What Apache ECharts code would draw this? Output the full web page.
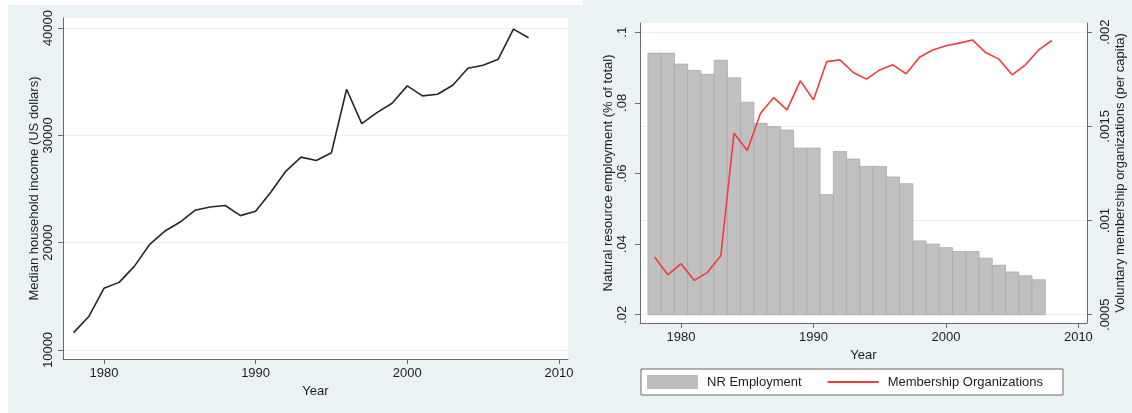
<!DOCTYPE html>
<html><head><meta charset="utf-8">
<script src="https://cdn.jsdelivr.net/npm/echarts@6/dist/echarts.min.js"></script>
<style>html,body{margin:0;padding:0;background:#fff}#c{width:1132px;height:413px}</style>
</head><body><div id="c"></div>
<script>
// ---- data ----
const incomeYears = [1978,1979,1980,1981,1982,1983,1984,1985,1986,1987,1988,1989,1990,1991,1992,1993,1994,1995,1996,1997,1998,1999,2000,2001,2002,2003,2004,2005,2006,2007,2008];
const income = [11620,13115,15750,16300,17790,19810,21060,21900,23020,23330,23460,22520,22930,24700,26670,27970,27660,28380,34300,31090,32120,32990,34610,33680,33830,34670,36260,36540,37100,39900,39090];

const nrYears = [1978,1979,1980,1981,1982,1983,1984,1985,1986,1987,1988,1989,1990,1991,1992,1993,1994,1995,1996,1997,1998,1999,2000,2001,2002,2003,2004,2005,2006,2007];
const nrEmployment = [0.0941,0.0941,0.0910,0.0892,0.0881,0.0921,0.0871,0.0802,0.0742,0.0733,0.0723,0.0672,0.0672,0.0540,0.0662,0.0641,0.0620,0.0620,0.0590,0.0571,0.0409,0.0400,0.0390,0.0379,0.0379,0.0360,0.0340,0.0321,0.0310,0.0299];

const memberYears = [1978,1979,1980,1981,1982,1983,1984,1985,1986,1987,1988,1989,1990,1991,1992,1993,1994,1995,1996,1997,1998,1999,2000,2001,2002,2003,2004,2005,2006,2007,2008];
const membership = [0.000806,0.000712,0.000771,0.000682,0.000725,0.000813,0.001464,0.001372,0.001570,0.001653,0.001588,0.001742,0.001641,0.001844,0.001853,0.001786,0.001751,0.001800,0.001827,0.001779,0.001867,0.001906,0.001928,0.001942,0.001959,0.001892,0.001857,0.001774,0.001827,0.001906,0.001956];

const yearTicks = [1980,1990,2000,2010];
const incomeTicks = [10000,20000,30000,40000];
const nrTicks = [0.02,0.04,0.06,0.08,0.1];
const nrTickLabels = ['.02','.04','.06','.08','.1'];
const memTicks = [0.0005,0.001,0.0015,0.002];
const memTickLabels = ['.0005','.001','.0015','.002'];
const NR_BASE = 0.02;

// ---- helpers ----
function lookup(ticks, labels){
  return v => { let b=0; ticks.forEach((t,i)=>{ if(Math.abs(t-v)<Math.abs(ticks[b]-v)) b=i; }); return labels[b]; };
}
const FONT = '"Liberation Sans", Arial, Helvetica, sans-serif';
const TXT = '#1e1e1e';
const AX = '#6a6a6a';
const GRIDC = '#e9efef';
const lbl = (extra) => Object.assign({color:TXT, fontSize:13, fontFamily:FONT}, extra);

const chart = echarts.init(document.getElementById('c'), null, {renderer:'canvas'});
const option = {
  backgroundColor: '#ffffff',
  animation: false,
  textStyle: {fontFamily: FONT},
  graphic: [
    {type:'rect', z:-10, shape:{x:8,y:5,width:575,height:408}, style:{fill:'#eaf2f3'}, silent:true},
    {type:'rect', z:-10, shape:{x:583,y:0,width:549,height:413}, style:{fill:'#eaf2f3'}, silent:true}
  ],
  grid: [
    {left:63, top:18, width:505, height:341, show:true, backgroundColor:'#ffffff', borderWidth:0},
    {left:640, top:23, width:447, height:300, show:true, backgroundColor:'#ffffff', borderWidth:0}
  ],
  legend: {
    left: 641, top: 369,
    padding: [6, 20, 6, 6],
    itemGap: 25, itemWidth: 51, itemHeight: 14,
    backgroundColor: '#ffffff', borderColor: '#6a6a6a', borderWidth: 1,
    textStyle: {color: TXT, fontSize: 13, fontFamily: FONT, padding: [0, 0, 0, 4]},
    data: [
      {name:'NR Employment', icon:'rect', itemStyle:{color:'#bdbdbd', borderWidth:0}},
      {name:'Membership Organizations', itemStyle:{opacity:0, borderWidth:0}, lineStyle:{color:'#f23b3b', width:2}}
    ]
  },
  xAxis: [
    {type:'value', gridIndex:0, min:1977.3, max:2010.6,
     name:'Year', nameLocation:'middle', nameGap:24, nameTextStyle:lbl({}),
     axisLine:{show:true, onZero:false, lineStyle:{color:AX, width:1}},
     axisTick:{show:true, length:5, customValues:yearTicks, lineStyle:{color:AX}},
     axisLabel:lbl({customValues:yearTicks, margin:8, formatter: v => String(Math.round(v))}),
     splitLine:{show:false}},
    {type:'value', gridIndex:1, min:1976.9, max:2010.65,
     name:'Year', nameLocation:'middle', nameGap:26, nameTextStyle:lbl({}),
     axisLine:{show:true, onZero:false, lineStyle:{color:AX, width:1}},
     axisTick:{show:true, length:5, customValues:yearTicks, lineStyle:{color:AX}},
     axisLabel:lbl({customValues:yearTicks, margin:8, formatter: v => String(Math.round(v))}),
     splitLine:{show:false}}
  ],
  yAxis: [
    {type:'value', gridIndex:0, min:9160, max:40935,
     name:'Median household income (US dollars)', nameLocation:'middle', nameRotate:90, nameGap:18, nameTextStyle:lbl({}),
     axisLine:{show:true, onZero:false, lineStyle:{color:AX, width:1}},
     axisTick:{show:true, length:5, customValues:incomeTicks, lineStyle:{color:AX}},
     axisLabel:lbl({customValues:incomeTicks, rotate:90, margin:8, formatter: v => String(Math.round(v))}),
     splitLine:{show:true, lineStyle:{color:GRIDC, width:1}}},
    {type:'value', gridIndex:1, min:0.01765, max:0.10263,
     name:'Natural resource employment (% of total)', nameLocation:'middle', nameRotate:90, nameGap:23, nameTextStyle:lbl({}),
     axisLine:{show:true, onZero:false, lineStyle:{color:AX, width:1}},
     axisTick:{show:true, length:5, customValues:nrTicks, lineStyle:{color:AX}},
     axisLabel:lbl({customValues:nrTicks, rotate:90, margin:11, formatter: lookup(nrTicks, nrTickLabels)}),
     splitLine:{show:false}},
    {type:'value', gridIndex:1, position:'right', min:0.000456, max:0.002049,
     name:'Voluntary membership organizations (per capita)', nameLocation:'middle', nameRotate:90, nameGap:27, nameTextStyle:lbl({}),
     axisLine:{show:true, onZero:false, lineStyle:{color:AX, width:1}},
     axisTick:{show:true, length:5, customValues:memTicks, lineStyle:{color:AX}},
     axisLabel:lbl({customValues:memTicks, rotate:90, margin:12, formatter: lookup(memTicks, memTickLabels)}),
     splitLine:{show:true, lineStyle:{color:GRIDC, width:1}}}
  ],
  series: [
    {type:'line', name:'Income', xAxisIndex:0, yAxisIndex:0,
     data: incomeYears.map((y,i)=>[y, income[i]]),
     showSymbol:false, symbol:'none', lineStyle:{color:'#262626', width:1.6}, itemStyle:{color:'#262626'}, z:3},
    {type:'custom', name:'NR Employment', xAxisIndex:1, yAxisIndex:1,
     data: nrYears.map((y,i)=>[y, nrEmployment[i]]),
     encode:{x:0, y:1},
     itemStyle:{color:'#bfbfbf'},
     renderItem: (params, api) => {
       const yr = api.value(0), v = api.value(1);
       const top = api.coord([yr, v]);
       const base = api.coord([yr, NR_BASE]);
       const w = api.size([1, 0])[0];
       return {type:'rect',
         shape:{x: top[0]-w/2, y: top[1], width: w, height: base[1]-top[1]},
         style:{fill:'#c0c0c0', stroke:'#a9a9a9', lineWidth:0.8}};
     }, z:2},
    {type:'line', name:'Membership Organizations', xAxisIndex:1, yAxisIndex:2,
     data: memberYears.map((y,i)=>[y, membership[i]]),
     showSymbol:false, symbol:'none', lineStyle:{color:'#f23b3b', width:1.6}, itemStyle:{color:'#f23b3b'}, z:4}
  ]
};
chart.setOption(option);
</script>
</body></html>
